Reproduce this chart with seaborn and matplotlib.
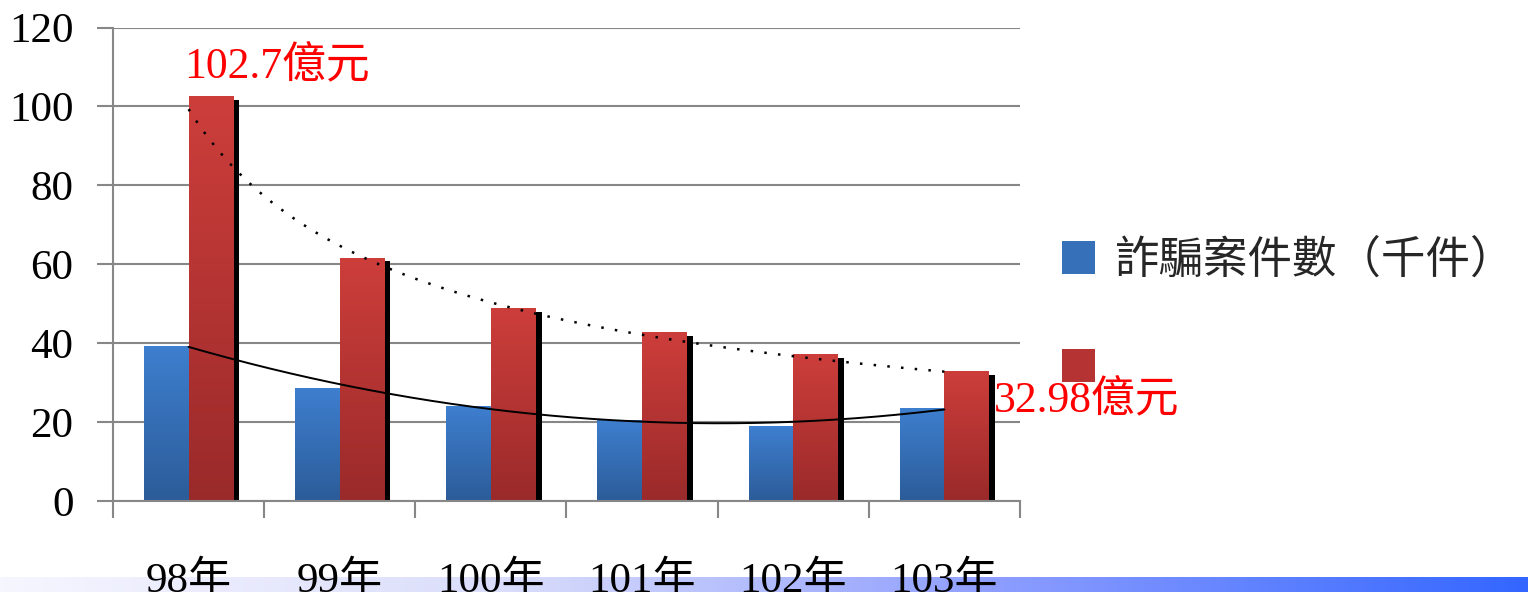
import numpy as np
import pandas as pd
import matplotlib
matplotlib.use("Agg")
import matplotlib.pyplot as plt
import seaborn as sns
from matplotlib.colors import LinearSegmentedColormap
from matplotlib.patches import Rectangle, Patch

# ---- data ----
years = ["98年", "99年", "100年", "101年", "102年", "103年"]
cases = [39.3, 28.7, 24.1, 20.6, 19.0, 23.6]          # 詐騙案件數（千件）
losses = [102.7, 61.7, 49.0, 42.9, 37.3, 32.98]       # 財損（億元）
series_names = ["詐騙案件數（千件）", " "]
first_label = "102.7億元"
last_label = "32.98億元"
yticks = [0, 20, 40, 60, 80, 100, 120]

sns.set_theme(style="white")
plt.rcParams['font.family'] = ['Liberation Serif', 'Noto Sans CJK TC', 'DejaVu Sans']

df = pd.DataFrame({
    "year": years * 2,
    "series": [series_names[0]] * len(years) + [series_names[1]] * len(years),
    "value": cases + losses,
})

W, H = 1528, 592
fig = plt.figure(figsize=(W / 100, H / 100), dpi=100)
fig.patch.set_facecolor("white")

# bottom gradient band (slide footer)
band = fig.add_axes([0, 0, 1, 15 / H], zorder=-5)
bcmap = LinearSegmentedColormap.from_list(
    "band", [(0, "#F6F6FF"), (0.33, "#DADDFB"), (0.65, "#8E9EFF"), (1.0, "#3366FF")])
band.imshow(np.linspace(0, 1, 512).reshape(1, -1), cmap=bcmap, aspect="auto")
band.set_axis_off()

ax = fig.add_axes([113 / W, (H - 501) / H, (1020 - 113) / W, (501 - 27.5) / H])
ax.set_facecolor("none")

blue_top, blue_bot = "#3E7FCF", "#2C5C99"
red_top, red_bot = "#CD3E3B", "#9A2A2A"

sns.barplot(data=df, x="year", y="value", hue="series", palette=[blue_top, red_top],
            width=0.59, saturation=1, ax=ax, legend=False, zorder=2)


def grad_fill(patch, top, bot):
    x, y = patch.get_x(), patch.get_y()
    w, h = patch.get_width(), patch.get_height()
    cmap = LinearSegmentedColormap.from_list("g", [bot, top])
    im = ax.imshow(np.linspace(0, 1, 256).reshape(-1, 1), cmap=cmap,
                   extent=[x, x + w, y, y + h], origin="lower", aspect="auto",
                   zorder=patch.get_zorder() + 0.01)
    im.set_clip_path(patch)


blue_bars = ax.containers[0]
red_bars = ax.containers[1]
for p in blue_bars:
    p.set_edgecolor("none")
    grad_fill(p, blue_top, blue_bot)
for p in red_bars:
    p.set_edgecolor("none")
    grad_fill(p, red_top, red_bot)
    # black drop shadow on the right
    ax.add_patch(Rectangle((p.get_x() + p.get_width(), 0), 0.04, p.get_height() - 1.0,
                           facecolor="black", edgecolor="none", zorder=1.9))

# trend lines
xs = np.linspace(0, len(years) - 1, 300)
xi = np.arange(len(years))
c2 = np.polyfit(xi, cases, 2)
ax.plot(xs, np.polyval(c2, xs), color="black", lw=1.4, zorder=4)
b, lna = np.polyfit(np.log(xi + 1), np.log(losses), 1)
ax.plot(xs, np.exp(lna) * (xs + 1) ** b, color="black", lw=1.8,
        linestyle=(0, (1, 4.5)), zorder=4)

# value labels
p0 = red_bars[0]
ax.annotate(first_label, xy=(p0.get_x(), p0.get_height()), xytext=(-3, 21),
            textcoords="offset points", ha="left", va="center", color="#FF0000",
            fontsize=31.5, zorder=6, annotation_clip=False)
p5 = red_bars[-1]
ax.annotate(last_label, xy=(p5.get_x() + p5.get_width() + 0.04, p5.get_height()),
            xytext=(-1, -22), textcoords="offset points", ha="left", va="center",
            color="#FF0000", fontsize=31.5, zorder=6, annotation_clip=False)

# axes styling
gray = "#878787"
ax.set_xlim(-0.5, len(years) - 0.5)
ax.set_ylim(0, 120)
ax.set_yticks(yticks)
ax.set_yticklabels([str(v) for v in yticks])
ax.yaxis.grid(True, color=gray, lw=1.5)
ax.xaxis.grid(False)
ax.set_axisbelow(True)
ax.set_xlabel("")
ax.set_ylabel("")
for s in ["top", "right"]:
    ax.spines[s].set_visible(False)
for s in ["left", "bottom"]:
    ax.spines[s].set_color(gray)
    ax.spines[s].set_linewidth(1.5)
ax.tick_params(axis="y", which="major", left=True, length=11.5, width=1.5, color=gray,
               labelsize=31, pad=17, labelcolor="black")
ax.set_xticks(np.arange(len(years)))
ax.set_xticklabels(years)
ax.set_xticks(np.arange(len(years) + 1) - 0.5, minor=True)
ax.tick_params(axis="x", which="major", bottom=True, length=0, labelsize=31, pad=44,
               labelcolor="black")
ax.tick_params(axis="x", which="minor", bottom=True, length=12, width=1.5, color=gray)

# legend
handles = [Patch(facecolor="#3570B8", edgecolor="none"),
           Patch(facecolor="#B53433", edgecolor="none")]
fig.legend(handles, series_names, loc="upper left",
           bbox_to_anchor=(1062 / W, (H - 237) / H), frameon=False,
           prop={"family": ["Noto Sans CJK TC"], "size": 32},
           handlelength=0.75, handleheight=0.75, handletextpad=0.45,
           labelspacing=1.4, borderpad=0, borderaxespad=0)

fig.savefig("out.png", dpi=100)
